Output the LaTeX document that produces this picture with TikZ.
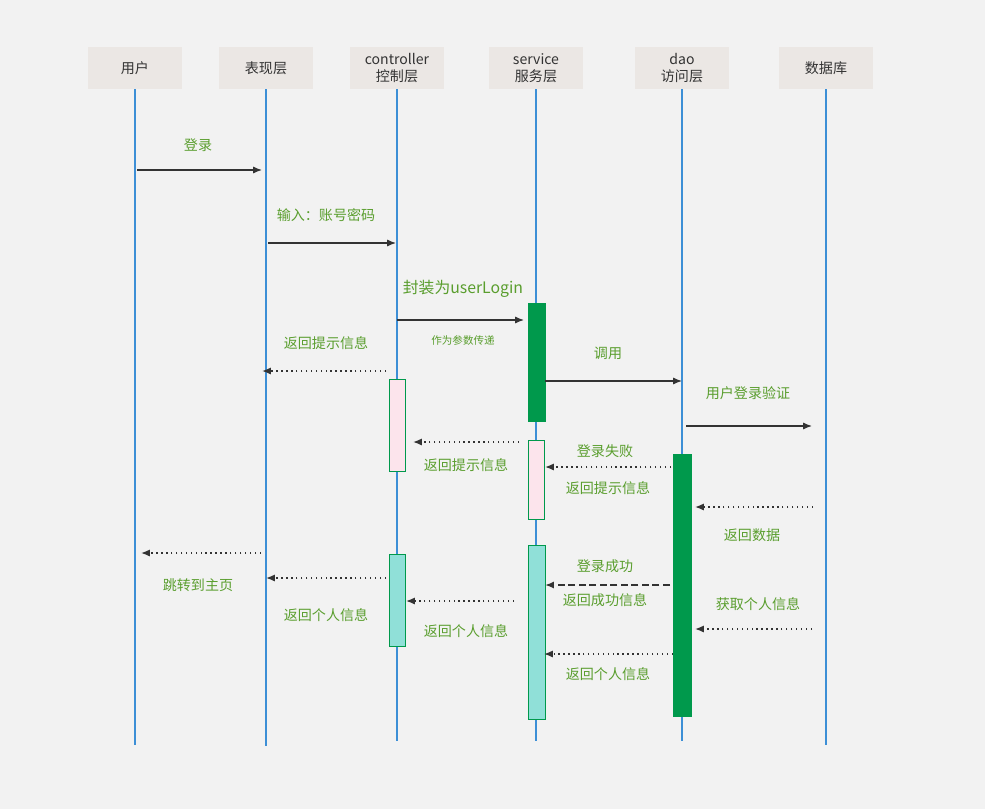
\documentclass[tikz,border=0pt]{standalone}
\usepackage{fontspec}
\setmainfont{Noto Sans CJK SC}
\usepackage{tikz}
\usetikzlibrary{positioning,arrows.meta}
\definecolor{bgcolor}{RGB}{242,242,242}
\definecolor{headcolor}{RGB}{235,231,228}
\definecolor{linecolor}{RGB}{61,143,214}
\definecolor{barcolor}{RGB}{0,153,76}
\definecolor{pinkcolor}{RGB}{252,228,236}
\definecolor{cyancolor}{RGB}{144,224,216}
\definecolor{labelcolor}{RGB}{90,158,46}

\begin{document}
\begin{tikzpicture}[
    x=0.02cm, y=-0.02cm,
    head/.style={fill=headcolor, draw=none, minimum width=1.9cm, minimum height=0.84cm, align=center, font=\fontsize{8}{9.5}\selectfont, text=black!80},
    life/.style={linecolor, line width=0.6pt},
    bar/.style={draw=barcolor, line width=0.5pt},
    call/.style={-{Latex[length=5pt,width=4pt]}, black!80, line width=0.7pt},
    back/.style={-{Latex[length=5pt,width=4pt]}, black!80, line width=0.8pt, dotted},
    lbl/.style={text=labelcolor, font=\fontsize{8}{9.5}\selectfont}
]
    % background
    \fill[bgcolor] (0,0) rectangle (985,809);

    % headers and lifelines
    \foreach \name/\x/\txt/\bot in {user/135/用户/745, view/266/表现层/746, ctrl/397/controller\\控制层/741, serv/536/service\\服务层/741, dao/682/dao\\访问层/741, db/826/数据库/745} {
        \node[head] (\name) at (\x,68) {\txt};
        \draw[life] (\name.south) -- (\x,\bot);
    }

    % activation bars
    \filldraw[bar, fill=barcolor] (528,303) rectangle (545,421);
    \filldraw[bar, fill=pinkcolor] (389,379) rectangle (405,471);
    \filldraw[bar, fill=pinkcolor] (528,440) rectangle (544,519);
    \filldraw[bar, fill=barcolor] (673,454) rectangle (691,716);
    \filldraw[bar, fill=cyancolor] (389,554) rectangle (405,646);
    \filldraw[bar, fill=cyancolor] (528,545) rectangle (545,719);

    % messages
    \foreach \n/\xa/\xb/\y in {m1/137/262/170, m2/268/396/243, m3/397/524/320, m4/386/262/371,
        m5/545/682/381, m6/686/812/426, m7/519/413/442, m8/671/545/467, m9/813/695/507,
        m10/261/141/553, m11/386/266/578, m12/670/545/585, m13/514/406/601, m14/812/695/629,
        m15/673/544/654} {
        \coordinate (\n s) at (\xa,\y);
        \coordinate (\n e) at (\xb,\y);
    }
    \foreach \n in {m1,m2,m3,m5,m6}
        \draw[call] (\n s) -- (\n e);
    \foreach \n in {m4,m7,m8,m9,m10,m11,m13,m14,m15}
        \draw[back] (\n s) -- (\n e);
    \draw[-{Latex[length=5pt,width=4pt]}, black!80, line width=1pt, dash pattern=on 4pt off 2pt] (m12s) -- (m12e);

    % labels
    \node[lbl] at (198,145) {登录};
    \node[lbl] at (326,215) {输入：账号密码};
    \node[lbl, font=\fontsize{9}{11}\selectfont] at (463,289) {封装为userLogin};
    \node[lbl, font=\fontsize{6}{7}\selectfont] at (463,340) {作为参数传递};
    \node[lbl] at (326,343) {返回提示信息};
    \node[lbl] at (608,353) {调用};
    \node[lbl] at (748,393) {用户登录验证};
    \node[lbl] at (466,465) {返回提示信息};
    \node[lbl] at (605,451) {登录失败};
    \node[lbl] at (608,488) {返回提示信息};
    \node[lbl] at (752,535) {返回数据};
    \node[lbl] at (198,585) {跳转到主页};
    \node[lbl] at (326,615) {返回个人信息};
    \node[lbl] at (605,566) {登录成功};
    \node[lbl] at (605,600) {返回成功信息};
    \node[lbl] at (466,631) {返回个人信息};
    \node[lbl] at (758,604) {获取个人信息};
    \node[lbl] at (608,674) {返回个人信息};
\end{tikzpicture}
\end{document}
